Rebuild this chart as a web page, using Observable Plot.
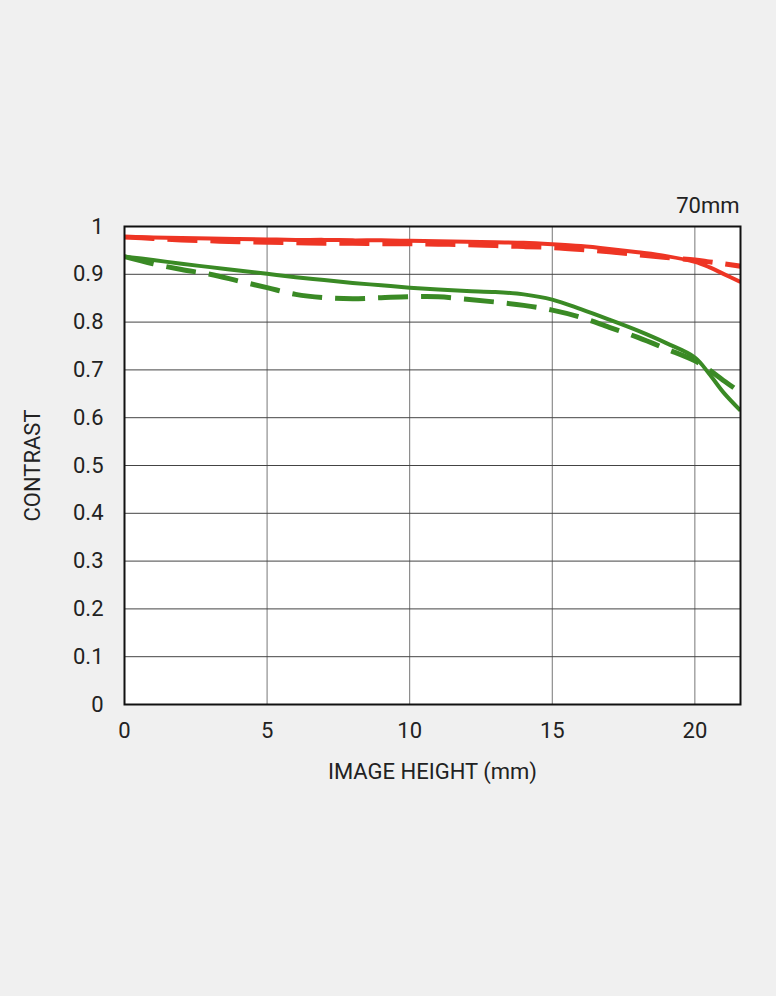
<!DOCTYPE html>
<html><head><meta charset="utf-8">
<script src="https://cdn.jsdelivr.net/npm/d3@7"></script>
<script src="https://cdn.jsdelivr.net/npm/@observablehq/plot@0.6"></script>
<style>
html,body{margin:0;padding:0;background:#f0f0f0;}
#chart svg{display:block;}
</style>
</head><body><div id="chart"></div>
<script>
const imageHeight = [0, 1, 2, 3, 4, 5, 6, 7, 8, 9, 10, 11, 12, 13, 14, 15, 16, 17, 18, 19, 20, 20.5, 21, 21.6];
const sagittalRed = [0.978, 0.977, 0.976, 0.975, 0.974, 0.973, 0.972, 0.972, 0.971, 0.971, 0.970, 0.969, 0.968, 0.967, 0.966, 0.963, 0.959, 0.953, 0.946, 0.938, 0.926, 0.915, 0.901, 0.884];
const meridionalRed = [0.978, 0.975, 0.972, 0.970, 0.968, 0.967, 0.966, 0.965, 0.965, 0.964, 0.964, 0.963, 0.962, 0.960, 0.958, 0.956, 0.952, 0.947, 0.941, 0.935, 0.930, 0.926, 0.922, 0.917];
const sagittalGreen = [0.937, 0.930, 0.922, 0.915, 0.908, 0.901, 0.894, 0.888, 0.882, 0.877, 0.872, 0.868, 0.865, 0.863, 0.858, 0.847, 0.827, 0.805, 0.782, 0.756, 0.726, 0.692, 0.653, 0.615];
const meridionalGreen = [0.937, 0.922, 0.910, 0.900, 0.886, 0.872, 0.858, 0.851, 0.849, 0.851, 0.853, 0.853, 0.848, 0.842, 0.835, 0.825, 0.810, 0.789, 0.768, 0.744, 0.719, 0.700, 0.678, 0.653];
const xTicks = [0, 5, 10, 15, 20];
const yTicks = [0, 0.1, 0.2, 0.3, 0.4, 0.5, 0.6, 0.7, 0.8, 0.9, 1];
const focalLabel = "70mm";

const series = [
  {name: "meridionalRed", values: meridionalRed, color: "#ee3524", dash: "30,13", width: 5},
  {name: "sagittalRed", values: sagittalRed, color: "#ee3524", dash: null, width: 4},
  {name: "meridionalGreen", values: meridionalGreen, color: "#3a8a25", dash: "30,13", width: 5},
  {name: "sagittalGreen", values: sagittalGreen, color: "#3a8a25", dash: null, width: 4}
];
const tables = series.map(s => imageHeight.map((x, i) => ({x, y: s.values[i]})));

const font = "Roboto, 'Liberation Sans', sans-serif";
const chart = Plot.plot({
  width: 776,
  height: 996,
  marginLeft: 124,
  marginRight: 36,
  marginTop: 226,
  marginBottom: 292,
  style: {background: "#f0f0f0", fontFamily: font, fontSize: "22px", color: "#222"},
  x: {domain: [0, 21.6], ticks: xTicks, tickSize: 0, tickPadding: 18, label: "IMAGE HEIGHT (mm)", labelAnchor: "center", labelArrow: "none", labelOffset: 74},
  y: {domain: [0, 1], ticks: yTicks, tickSize: 0, tickPadding: 21, tickFormat: d => String(+d.toFixed(1)), label: "CONTRAST", labelAnchor: "center", labelArrow: "none", labelOffset: 100},
  marks: [
    Plot.frame({fill: "white"}),
    Plot.gridX(xTicks, {stroke: "#777", strokeOpacity: 1, strokeWidth: 1}),
    Plot.gridY(yTicks, {stroke: "#444", strokeOpacity: 1, strokeWidth: 1}),
    ...series.map((s, k) => Plot.line(tables[k], {x: "x", y: "y", stroke: s.color, strokeWidth: s.width, strokeDasharray: s.dash, curve: "catmull-rom", strokeLinecap: "butt", clip: true})),
    Plot.frame({stroke: "#111", strokeWidth: 2}),
    Plot.text([focalLabel], {text: d => d, frameAnchor: "top-right", dy: -29, dx: -1, fontSize: 22, textAnchor: "end", fill: "#222"})
  ]
});
document.getElementById("chart").append(chart);
</script>
</body></html>
